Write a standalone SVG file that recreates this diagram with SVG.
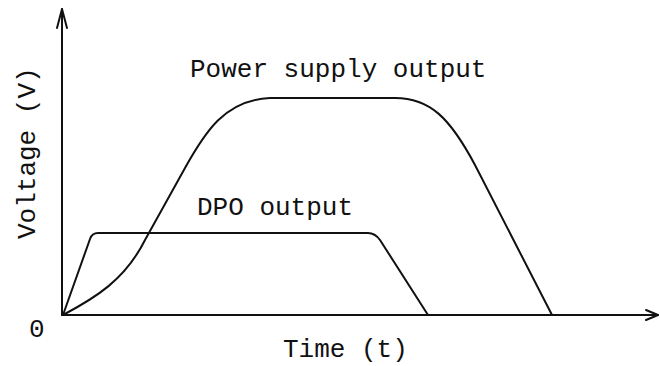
<svg xmlns="http://www.w3.org/2000/svg" width="660" height="366" viewBox="0 0 660 366">
  <style>
    .ax { fill: none; stroke: #111; stroke-width: 2; stroke-linecap: round; stroke-linejoin: round; }
    .curve { fill: none; stroke: #111; stroke-width: 2; stroke-linejoin: round; }
    .lbl { font-family: "Liberation Mono", "Courier New", monospace; font-size: 26px; fill: #111; }
  </style>
  <rect width="660" height="366" fill="#fff"/>
  <g id="axes">
    <line class="ax" x1="62" y1="315" x2="62" y2="9"/>
    <polyline class="ax" points="57,28 62,9 67,28"/>
    <line class="ax" x1="62" y1="315" x2="658" y2="315"/>
    <polyline class="ax" points="646,310 658,315 646,320"/>
  </g>
  <g id="curves">
    <path id="power-supply-curve" class="curve" d="M63,315 C95,298 125,280 145,240 L185,168 C205,132 225,100 270,98 L395,98 C430,98 450,118 475,165 L552,315"/>
    <path id="dpo-curve" class="curve" d="M63,315 L90,239 Q92,233 98,233 L368,233 Q375,233 380,240 L428,315"/>
  </g>
  <g id="labels">
    <text class="lbl" x="190" y="77">Power supply output</text>
    <text class="lbl" x="197" y="215">DPO output</text>
    <text class="lbl" x="283" y="357">Time (t)</text>
    <text class="lbl" x="29" y="337">0</text>
    <text class="lbl" transform="translate(35,239) rotate(-90)">Voltage (V)</text>
  </g>
</svg>
